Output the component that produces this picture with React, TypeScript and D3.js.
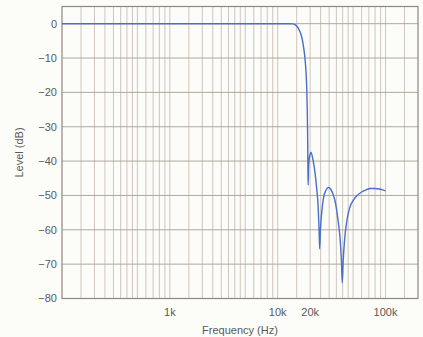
import React from 'react';
import * as d3 from 'd3';

// response curve (Hz, dB)
const freqs = [
  100, 1000, 5000, 10000, 12500, 13800, 14500, 15200, 15800, 16400, 17000, 17500,
  17900, 18300, 18600, 18800, 18950, 19050, 19150, 19400, 19800, 20400, 21200,
  22000, 23000, 23700, 24200, 24500, 24900, 25500, 26500, 28000, 29700, 31000,
  32500, 34500, 36200, 38000, 39000, 39700, 40500, 41700, 44000, 46400, 50000,
  53500, 60000, 66000, 72000, 79000, 90000, 100000,
];
const levels = [
  0, 0, 0, 0, 0, -0.05, -0.3, -0.9, -1.8, -3, -5, -7.5,
  -10, -14, -19, -25, -32, -40, -47, -41, -38.5, -37.5, -39.5,
  -42.5, -48, -53, -60, -65.5, -60, -55.5, -51, -48.5, -47.7, -48.2,
  -49.5, -52.5, -57, -63, -69, -75.5, -69, -63, -57, -53.7, -51.5,
  -50.3, -49, -48.4, -48, -48, -48.2, -48.7,
];

const yTicks = [0, -10, -20, -30, -40, -50, -60, -70, -80];
const xTickValues = [1000, 10000, 20000, 100000];
const xTickLabels = ['1k', '10k', '20k', '100k'];
const gridMantissas = [1, 1.5, 2, 2.5, 3, 3.5, 4, 4.5, 5, 6, 7, 8, 9];
const decades = [100, 1000, 10000, 100000];

const W = 423;
const H = 337;
const left = 62, right = 418, top = 6.5, bottom = 298.5;

export default function App() {
  const x = d3.scaleLog().domain([100, 200000]).range([left, right]);
  const y = d3.scaleLinear().domain([-80, 5]).range([bottom, top]);

  const gridFreqs: number[] = [];
  decades.forEach(dec => {
    gridMantissas.forEach(m => {
      const f = dec * m;
      if (f > 100 && f < 200000) gridFreqs.push(f);
    });
  });

  const pts = freqs.map((f, i) => [f, levels[i]] as [number, number]);
  const line = d3.line<[number, number]>()
    .x(d => x(d[0]))
    .y(d => y(d[1]))
    .curve(d3.curveMonotoneX);

  const font = '"Liberation Sans", Arial, sans-serif';

  return (
    <svg width={W} height={H} style={{ position: 'fixed', left: 0, top: 0 }}>
      <rect x={0} y={0} width={W} height={H} fill="#fcfcf8" />

      {/* vertical grid */}
      {gridFreqs.map((f, i) => (
        <line key={'v' + i} x1={x(f)} x2={x(f)} y1={top} y2={bottom}
          stroke="#c9c1b8" strokeWidth={0.9} />
      ))}

      {/* horizontal grid */}
      {yTicks.map(t => (
        <line key={'h' + t} x1={left} x2={right} y1={y(t)} y2={y(t)}
          stroke="#a89f96" strokeWidth={0.9} />
      ))}

      {/* frame */}
      <rect x={left} y={top} width={right - left} height={bottom - top}
        fill="none" stroke="#8f8780" strokeWidth={1.2} />

      {/* curve */}
      <path d={line(pts) || ''} fill="none" stroke="#4a6fc9" strokeWidth={1.4} />

      {/* y tick labels */}
      {yTicks.map(t => (
        <text key={'yl' + t} x={57} y={y(t)} dy="0.36em" textAnchor="end"
          fontFamily={font} fontSize={11} fill="#5a5a5a">
          {t === 0 ? '0' : '\u2212' + Math.abs(t)}
        </text>
      ))}

      {/* x tick labels */}
      {xTickValues.map((v, i) => (
        <text key={'xl' + v} x={x(v)} y={315.5} textAnchor="middle"
          fontFamily={font} fontSize={11} fill="#5a5a5a">
          {xTickLabels[i]}
        </text>
      ))}

      <text x={(left + right) / 2} y={333.5} textAnchor="middle"
        fontFamily={font} fontSize={11} fill="#5a5a5a">Frequency (Hz)</text>
      <text transform={`translate(23,${(top + bottom) / 2}) rotate(-90)`} textAnchor="middle"
        fontFamily={font} fontSize={11} fill="#5a5a5a">Level (dB)</text>
    </svg>
  );
}
